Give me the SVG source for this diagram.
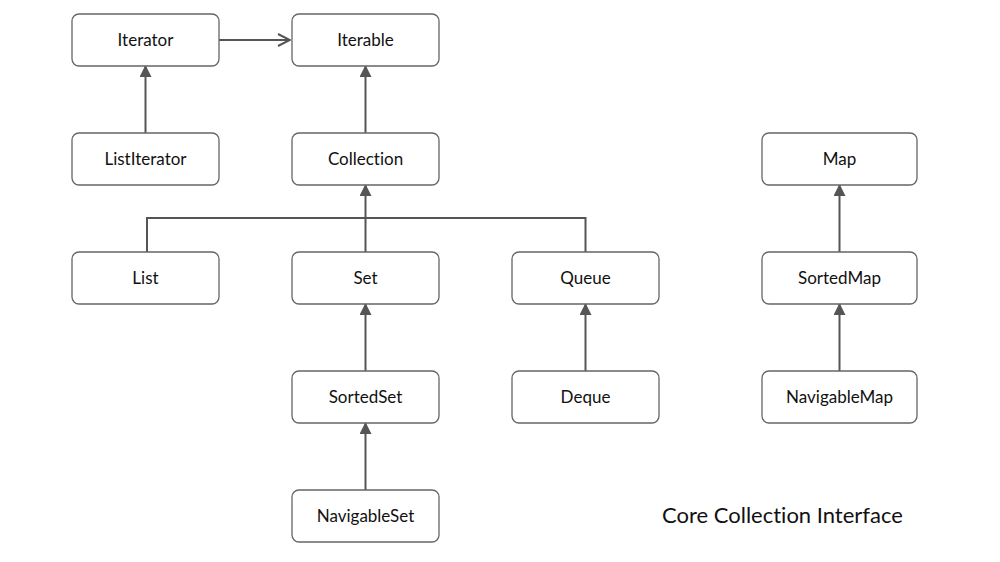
<svg xmlns="http://www.w3.org/2000/svg" width="1000" height="562" viewBox="0 0 1000 562">
<style>
text{font-variant-ligatures:none}
.n rect{fill:#fff;stroke:#666;stroke-width:1.3}
.n text{font-family:Lato,"Open Sans",sans-serif;font-size:17px;fill:#111;text-anchor:middle;dominant-baseline:central}
.c{stroke:#555;stroke-width:2;fill:none}
</style>
<defs>
<marker id="tri2" viewBox="0 0 12 12" refX="11" refY="6" markerWidth="12" markerHeight="12" markerUnits="userSpaceOnUse" orient="auto">
<path d="M0,0 L12,6 L0,12 z" fill="#555"/>
</marker>
<marker id="open" viewBox="0 0 14 14" refX="13" refY="7" markerWidth="14" markerHeight="14" markerUnits="userSpaceOnUse" orient="auto">
<path d="M1,1 L13,7 L1,13" fill="none" stroke="#555" stroke-width="2"/>
</marker>
</defs>
<g id="connectors">
<line class="c" x1="219" y1="40" x2="290" y2="40" marker-end="url(#open)"/>
<line class="c" x1="145.5" y1="133" x2="145.5" y2="66" marker-end="url(#tri2)"/>
<line class="c" x1="365.5" y1="133" x2="365.5" y2="66" marker-end="url(#tri2)"/>
<polyline class="c" points="147,252 147,218 585.5,218 585.5,252"/>
<line class="c" x1="365.5" y1="252" x2="365.5" y2="185" marker-end="url(#tri2)"/>
<line class="c" x1="365.5" y1="371" x2="365.5" y2="304" marker-end="url(#tri2)"/>
<line class="c" x1="365.5" y1="490" x2="365.5" y2="423" marker-end="url(#tri2)"/>
<line class="c" x1="585.5" y1="371" x2="585.5" y2="304" marker-end="url(#tri2)"/>
<line class="c" x1="839.5" y1="252" x2="839.5" y2="185" marker-end="url(#tri2)"/>
<line class="c" x1="839.5" y1="371" x2="839.5" y2="304" marker-end="url(#tri2)"/>
</g>
<g id="Iterator" class="n"><rect x="72" y="14" width="147" height="52" rx="7"/><text x="145.5" y="39.5">Iterator</text></g>
<g id="Iterable" class="n"><rect x="292" y="14" width="147" height="52" rx="7"/><text x="365.5" y="39.5">Iterable</text></g>
<g id="ListIterator" class="n"><rect x="72" y="133" width="147" height="52" rx="7"/><text x="145.5" y="158.5">ListIterator</text></g>
<g id="Collection" class="n"><rect x="292" y="133" width="147" height="52" rx="7"/><text x="365.5" y="158.5">Collection</text></g>
<g id="Map" class="n"><rect x="762" y="133" width="155" height="52" rx="7"/><text x="839.5" y="158.5">Map</text></g>
<g id="List" class="n"><rect x="72" y="252" width="147" height="52" rx="7"/><text x="145.5" y="277.5">List</text></g>
<g id="Set" class="n"><rect x="292" y="252" width="147" height="52" rx="7"/><text x="365.5" y="277.5">Set</text></g>
<g id="Queue" class="n"><rect x="512" y="252" width="147" height="52" rx="7"/><text x="585.5" y="277.5">Queue</text></g>
<g id="SortedMap" class="n"><rect x="762" y="252" width="155" height="52" rx="7"/><text x="839.5" y="277.5">SortedMap</text></g>
<g id="SortedSet" class="n"><rect x="292" y="371" width="147" height="52" rx="7"/><text x="365.5" y="396.5">SortedSet</text></g>
<g id="Deque" class="n"><rect x="512" y="371" width="147" height="52" rx="7"/><text x="585.5" y="396.5">Deque</text></g>
<g id="NavigableMap" class="n"><rect x="762" y="371" width="155" height="52" rx="7"/><text x="839.5" y="396.5">NavigableMap</text></g>
<g id="NavigableSet" class="n"><rect x="292" y="490" width="147" height="52" rx="7"/><text x="365.5" y="515.5">NavigableSet</text></g>
<text x="662" y="523" font-family="Lato,'Open Sans',sans-serif" font-size="22" fill="#111">Core Collection Interface</text>
</svg>
